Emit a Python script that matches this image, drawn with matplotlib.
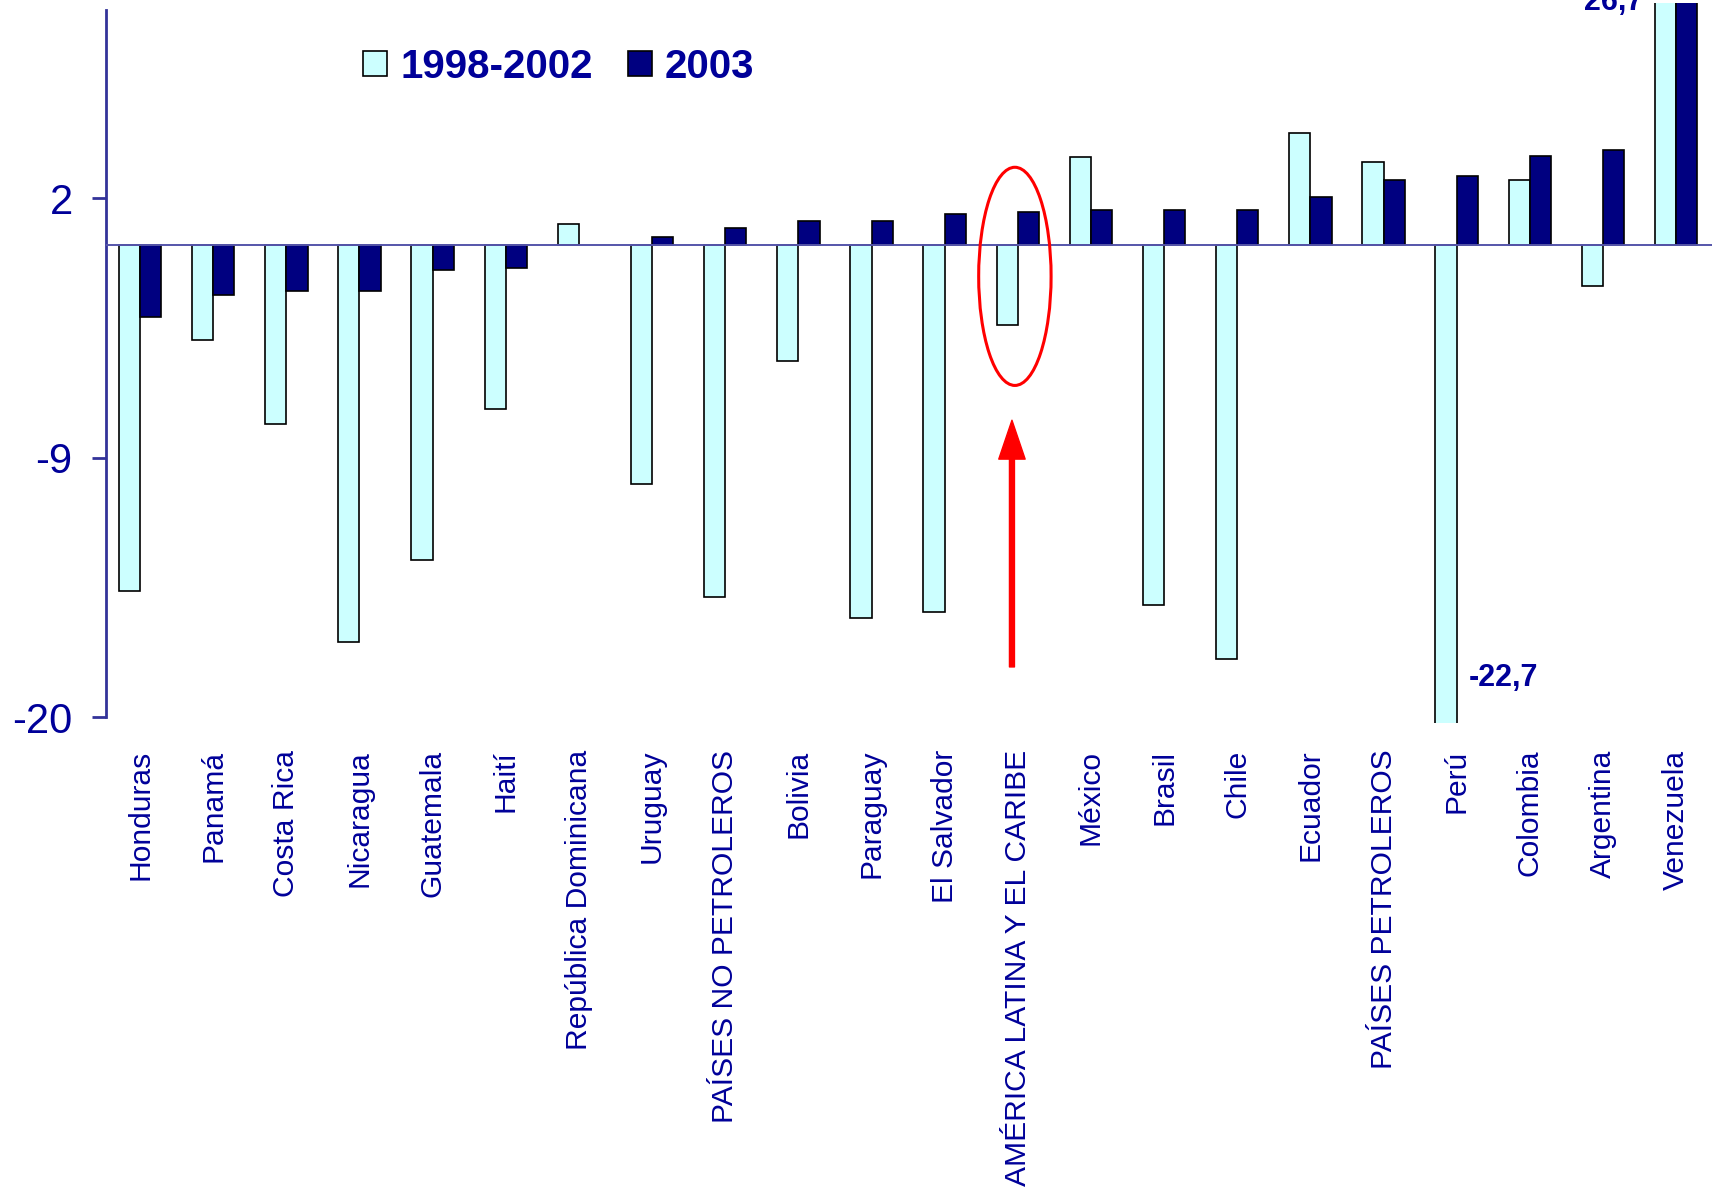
import numpy as np
import matplotlib
matplotlib.use("Agg")
import matplotlib.pyplot as plt
from matplotlib.patches import Ellipse

plt.rcParams['font.family'] = ['Liberation Sans', 'DejaVu Sans']

paises = ["Honduras", "Panamá", "Costa Rica", "Nicaragua", "Guatemala", "Haití",
          "República Dominicana", "Uruguay", "PAÍSES NO PETROLEROS", "Bolivia",
          "Paraguay", "El Salvador", "AMÉRICA LATINA Y EL CARIBE", "México",
          "Brasil", "Chile", "Ecuador", "PAÍSES PETROLEROS", "Perú", "Colombia",
          "Argentina", "Venezuela"]

# 1998-2002 (Venezuela off the scale)
p_1998_2002 = [-14.63, -4.02, -7.55, -16.81, -13.35, -6.92, 0.91, -10.10, -14.91, -4.91,
               -15.80, -15.54, -3.38, 3.76, -15.26, -17.55, 4.78, 3.53, -22.7, 2.78,
               -1.74, 26.7]
# 2003 (no bar for República Dominicana, Venezuela off the scale)
p_2003 = [-3.03, -2.12, -1.94, -1.94, -1.03, -0.95, np.nan, 0.37, 0.75, 1.03,
          1.03, 1.32, 1.41, 1.49, 1.49, 1.49, 2.04, 2.78, 2.96, 3.78,
          4.06, 20.0]

yticks = [2, -9, -20]
texto = "#000099"
eje = "#333399"

fig = plt.figure(figsize=(17.12, 11.89), dpi=100)
ax = fig.add_axes([106 / 1712, 1 - 723.3 / 1189, 1 - 106 / 1712, 720.3 / 1189])

x = np.arange(len(paises))
w = 0.29
ax.bar(x - w / 2, p_1998_2002, w, color="#CCFFFF", edgecolor="black", linewidth=1.2,
       label="1998-2002", zorder=2)
ax.bar(x + w / 2, p_2003, w, color="#000080", edgecolor="black", linewidth=1.2,
       label="2003", zorder=2)
ax.axhline(0, color="#5555AA", linewidth=1.4, zorder=3)

ax.set_xlim(-0.465, len(paises) - 0.51)
ax.set_ylim(-20.26, 10.28)

for s in ["top", "right", "bottom"]:
    ax.spines[s].set_visible(False)
ax.spines["left"].set_color(eje)
ax.spines["left"].set_linewidth(2.0)
ax.spines["left"].set_bounds(-20, 10)

ax.set_yticks(yticks)
ax.set_yticklabels([str(v) for v in yticks])
ax.tick_params(axis="y", direction="out", length=10, width=2.0, color=eje,
               labelsize=30, labelcolor=texto, pad=14)
ax.set_xticks(x)
ax.set_xticklabels(paises, rotation=90)
ax.tick_params(axis="x", length=0, labelsize=21.6, labelcolor=texto, pad=19)

# valores fuera de escala
ax.text(18.17, -18.35, "-22,7", ha="left", va="center", fontsize=22,
        fontweight="bold", color=texto)
ax.text(20.55, 10.32, "26,7", ha="right", va="center", fontsize=22,
        fontweight="bold", color=texto)

# resaltado de América Latina y el Caribe
ax.add_patch(Ellipse((11.96, -1.31), 0.99, 9.25, fill=False, edgecolor="red",
                     linewidth=2.2, zorder=4))
ax.annotate("", xy=(11.92, -7.41), xytext=(11.92, -17.87),
            arrowprops=dict(color="red", width=3.6, headwidth=19, headlength=28,
                            shrink=0))

fig.legend(loc="center left", bbox_to_anchor=(363 / 1712, 1 - 66.5 / 1189), ncol=2,
           frameon=False, prop={"size": 29, "weight": "bold"}, labelcolor=texto,
           handlelength=0.6, handleheight=0.6, handletextpad=0.32,
           columnspacing=0.88, borderpad=0, borderaxespad=0)

fig.savefig("out.png", dpi=100)
